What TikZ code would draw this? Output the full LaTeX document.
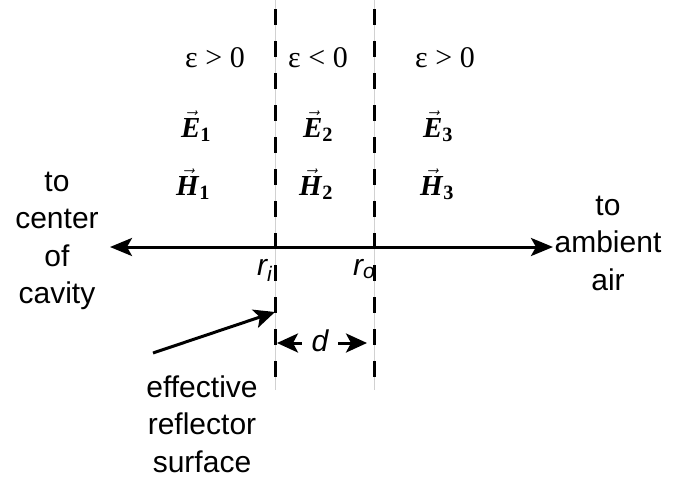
\documentclass[tikz,border=0pt]{standalone}
\usepackage{amsmath}
\usepackage{fontspec}
\setmainfont{Liberation Serif}
\setsansfont{Liberation Sans}
\usetikzlibrary{arrows.meta}
\begin{document}
\begin{tikzpicture}[x=1pt,y=-1pt,
  lbl/.style={font=\fontsize{30}{37.5}\selectfont\sffamily, align=center, inner sep=0pt},
  rlbl/.style={font=\fontsize{30}{36}\selectfont\sffamily\itshape, anchor=base west, inner sep=0pt},
  eps/.style={font=\fontsize{30}{34}\selectfont, anchor=base, inner sep=0pt},
  fld/.style={font=\fontsize{29}{33}\selectfont, anchor=base, inner sep=0pt},
  guide/.style={draw=black!18, line width=0.8pt},
  bnd/.style={line width=3pt, dash pattern=on 16pt off 16pt},
  arr/.style={line width=3pt, {Stealth[length=22pt,width=18pt,inset=5pt]}-{Stealth[length=22pt,width=18pt,inset=5pt]}},
  sarr/.style={line width=3pt, -{Stealth[length=21pt,width=19pt,inset=5pt]}}
]
\useasboundingbox (0,0) rectangle (675,479);

% boundary guide lines and dashed boundaries
\coordinate (g1t) at (275,0);   \coordinate (g1b) at (275,390);
\coordinate (g2t) at (374,0);   \coordinate (g2b) at (374,390);
\coordinate (b1t) at (275,9);   \coordinate (b1b) at (275,377);
\coordinate (b2t) at (374,9);   \coordinate (b2b) at (374,377);
\draw[guide] (g1t) -- (g1b);
\draw[guide] (g2t) -- (g2b);
\draw[bnd] (b1t) -- (b1b);
\draw[bnd] (b2t) -- (b2b);

% axis
\coordinate (axL) at (110,247);
\coordinate (axR) at (553,247);
\draw[arr] (axL) -- (axR);

% permittivity labels
\node[eps] (e1) at (215,67) {ε > 0};
\node[eps] (e2) at (318,67) {ε < 0};
\node[eps] (e3) at (445,67) {ε > 0};

% fields
\node[fld] (E1) at (196,137) {$\vec{\textbf{\textit{E}}}_{\textbf{1}}$};
\node[fld] (E2) at (318,137) {$\vec{\textbf{\textit{E}}}_{\textbf{2}}$};
\node[fld] (E3) at (438,137) {$\vec{\textbf{\textit{E}}}_{\textbf{3}}$};
\node[fld] (H1) at (193,195) {$\vec{\textbf{\textit{H}}}_{\textbf{1}}$};
\node[fld] (H2) at (316,195) {$\vec{\textbf{\textit{H}}}_{\textbf{2}}$};
\node[fld] (H3) at (437,195) {$\vec{\textbf{\textit{H}}}_{\textbf{3}}$};

% side labels
\node[lbl] (left) at (57,241) {to\\center\\of\\cavity};
\node[lbl] (right) at (608,243) {to\\ambient\\air};
\node[lbl] (eff) at (202,424) {effective\\reflector\\surface};

% radii
\node[rlbl] (ri) at (257,275) {r\textsubscript{i}};
\node[rlbl] (ro) at (353,275) {r\textsubscript{o}};

% thickness d
\node[font=\fontsize{30}{36}\selectfont\sffamily\itshape, minimum width=36pt, inner sep=0pt] (d) at (320,341) {d};
\coordinate (dl) at (277,343);
\coordinate (dr) at (367,343);
\draw[sarr] (d.west |- dl) -- (dl);
\draw[sarr] (d.east |- dr) -- (dr);

% reflector pointer
\coordinate (pt) at (153,353);
\coordinate (ph) at (275,312);
\draw[sarr] (pt) -- (ph);
\end{tikzpicture}
\end{document}
